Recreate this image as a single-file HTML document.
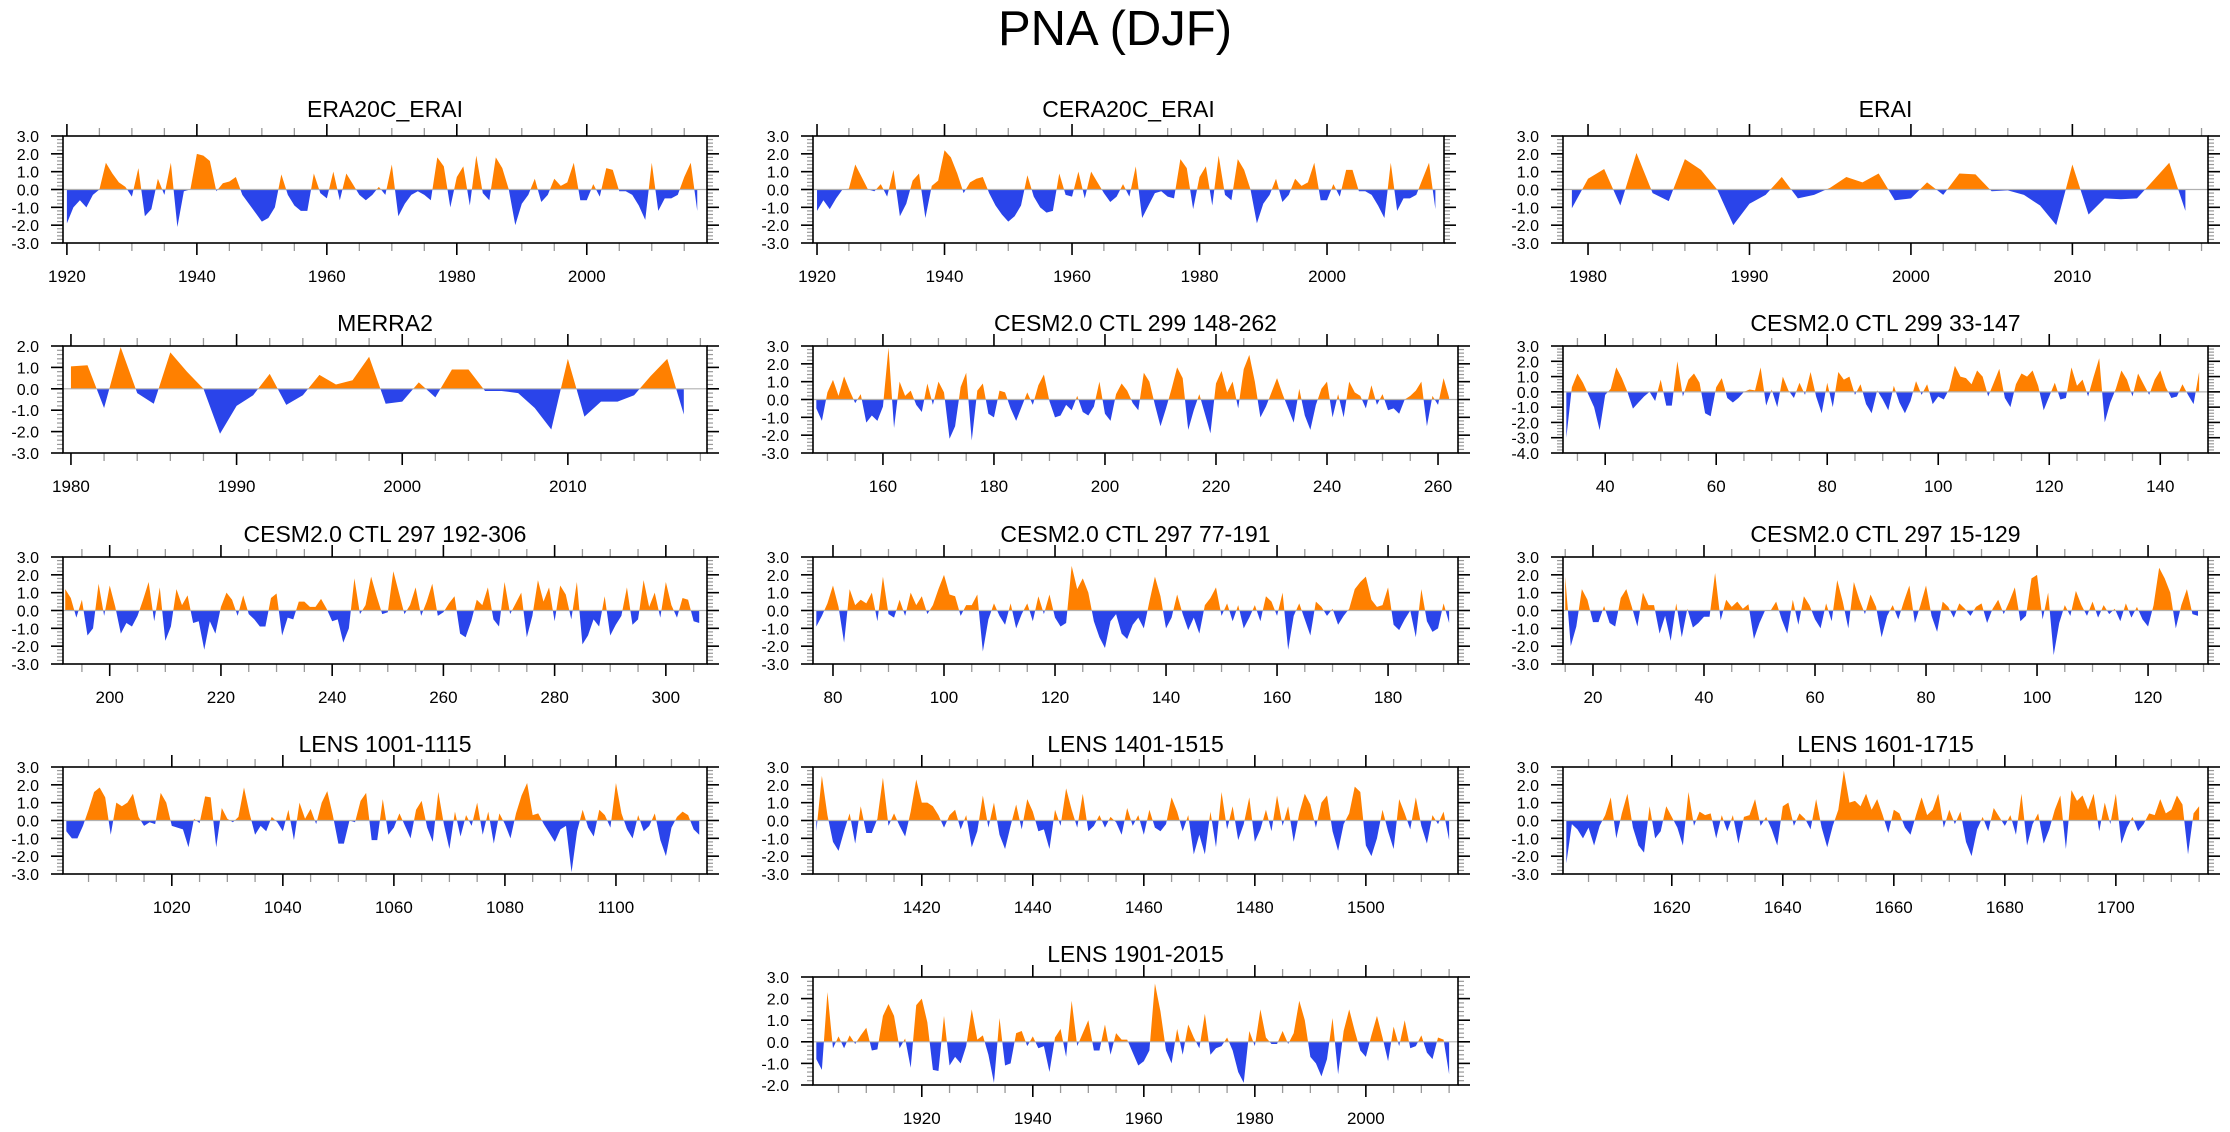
<!DOCTYPE html>
<html><head><meta charset="utf-8"><title>PNA (DJF)</title>
<style>
html,body{margin:0;padding:0;background:#fff;}
svg{display:block;font-family:"Liberation Sans",Arial,sans-serif;}
</style></head>
<body>
<svg id="fig" width="2230" height="1132" viewBox="0 0 2230 1132" xmlns="http://www.w3.org/2000/svg">
<text x="1115" y="45" font-size="49" text-anchor="middle">PNA (DJF)</text>
</svg>
<script>
// ---------- DATA ----------
const era20cStart = 1920;
const era20cValues = [-1.9,-1.0,-0.6,-1.0,-0.3,0.0,1.5,0.9,0.4,0.15,-0.4,1.2,-1.5,-1.1,0.6,-0.3,1.5,-2.1,-0.1,0.0,
2.0,1.9,1.6,-0.1,0.35,0.45,0.7,-0.3,-0.8,-1.3,-1.8,-1.6,-1.0,0.85,-0.3,-0.9,-1.2,-1.2,0.9,-0.2,
-0.5,1.0,-0.6,0.9,0.3,-0.3,-0.6,-0.3,0.15,-0.3,1.4,-1.5,-0.8,-0.3,-0.1,-0.3,-0.6,1.8,1.3,-1.0,
0.7,1.3,-0.9,1.9,-0.2,-0.6,1.8,1.2,0.0,-2.0,-0.8,-0.3,0.6,-0.7,-0.3,0.6,0.2,0.4,1.5,-0.6,
-0.6,0.3,-0.4,1.2,1.1,-0.1,-0.1,-0.3,-0.9,-1.7,1.5,-1.2,-0.5,-0.5,-0.3,0.7,1.5,-1.2];
const cera20cStart = 1920;
const cera20cValues = [-1.2,-0.6,-1.1,-0.5,0.0,0.05,1.4,0.7,0.0,-0.1,0.3,-0.4,1.1,-1.5,-0.8,0.5,0.9,-1.6,0.2,0.5,
2.2,1.8,0.9,-0.2,0.4,0.6,0.7,-0.2,-0.9,-1.4,-1.8,-1.5,-0.9,0.8,-0.4,-1.0,-1.3,-1.2,0.9,-0.3,
-0.4,1.0,-0.5,1.0,0.4,-0.2,-0.7,-0.4,0.3,-0.4,1.3,-1.6,-0.9,-0.2,-0.1,-0.4,-0.5,1.7,1.2,-1.1,
0.7,1.3,-0.9,1.9,-0.3,-0.6,1.7,1.1,0.0,-1.9,-0.8,-0.3,0.6,-0.7,-0.3,0.6,0.2,0.4,1.5,-0.6,
-0.6,0.3,-0.4,1.1,1.1,-0.1,-0.1,-0.3,-0.9,-1.6,1.5,-1.2,-0.5,-0.5,-0.3,0.6,1.5,-1.1];
const eraiStart = 1979;
const eraiValues = [-1.05,0.6,1.15,-0.9,2.05,-0.2,-0.65,1.7,1.1,0.0,-2.0,-0.8,-0.3,0.7,-0.5,-0.3,0.1,0.7,0.4,0.9,
-0.6,-0.5,0.4,-0.3,0.9,0.85,-0.1,-0.05,-0.3,-0.9,-2.0,1.4,-1.4,-0.5,-0.55,-0.5,0.5,1.5,-1.2];
const merra2Start = 1980;
const merra2Values = [1.05,1.1,-0.9,1.95,-0.2,-0.7,1.7,0.8,0.0,-2.1,-0.8,-0.3,0.7,-0.75,-0.3,0.65,0.2,0.4,1.5,-0.7,
-0.6,0.3,-0.4,0.9,0.9,-0.1,-0.1,-0.2,-0.9,-1.9,1.4,-1.3,-0.6,-0.6,-0.3,0.6,1.4,-1.2];
const ctl299aStart = 148;
const ctl299aValues = [-0.5,-1.2,0.4,1.1,0.2,1.3,0.5,-0.2,0.3,-1.3,-0.9,-1.2,-0.4,2.9,-1.6,1.0,0.2,0.5,-0.3,-0.7,
0.9,-0.3,1.0,0.4,-2.2,-1.5,0.7,1.5,-2.3,0.5,0.9,-0.8,-1.0,0.5,0.4,-0.5,-1.2,-0.4,0.4,-0.3,
0.8,1.4,-0.1,-1.0,-0.9,-0.3,-0.6,0.2,-0.7,-0.9,-0.4,1.0,-0.8,-1.2,0.3,0.9,0.5,-0.2,-0.6,1.5,
1.0,-0.3,-1.5,-0.5,0.6,1.8,1.2,-1.7,-0.6,0.3,-0.8,-1.9,0.9,1.6,0.4,1.0,-0.5,1.7,2.5,1.0,
-1.0,-0.4,0.4,1.2,0.3,-0.5,-1.3,0.6,-0.9,-1.7,-0.3,0.6,1.0,-1.0,0.3,-1.0,1.0,0.4,0.2,-0.5,
0.8,-0.3,0.3,-0.6,-0.5,-0.8,0.0,0.2,0.5,1.0,-1.5,0.2,-0.3,1.2,0.1];
const ctl299bStart = 33;
const ctl299bValues = [-3.0,0.3,1.2,0.6,-0.2,-1.0,-2.5,-0.2,0.2,1.6,0.9,0.0,-1.1,-0.7,-0.3,0.0,-0.6,0.8,-0.9,-0.9,
2.0,-0.3,0.8,1.2,0.6,-1.4,-1.6,0.3,0.9,-0.4,-0.7,-0.4,0.0,0.15,0.1,1.6,-0.9,0.15,-1.0,1.0,
0.1,-0.4,0.6,-0.2,1.3,-0.3,-1.4,0.6,-1.0,1.3,0.8,1.0,-0.2,0.5,-0.8,-1.4,0.1,-0.5,-1.2,0.4,
-0.7,-1.4,-0.6,0.7,-0.2,0.5,-0.8,-0.3,-0.5,0.2,1.7,1.0,0.9,0.5,1.4,1.0,-0.3,0.6,1.5,-0.4,
-1.0,0.5,1.2,1.0,1.4,0.4,-1.2,-0.3,0.6,-0.5,-0.4,1.6,0.4,0.8,-0.3,1.0,2.2,-2.0,-0.7,0.2,
1.4,0.8,-0.3,1.2,0.5,-0.2,0.8,1.4,0.3,-0.4,-0.3,0.5,-0.2,-0.8,1.3];
const ctl297aStart = 192;
const ctl297aValues = [1.2,0.7,-0.4,0.6,-1.4,-1.0,1.5,-0.3,1.4,0.2,-1.3,-0.7,-0.9,-0.3,0.6,1.6,-0.6,1.3,-1.7,-0.9,
1.2,0.3,0.85,-0.7,-0.6,-2.2,-0.6,-1.3,0.2,1.0,0.6,-0.3,0.85,-0.2,-0.5,-0.9,-0.9,0.7,0.95,-1.4,
-0.4,-0.5,0.5,0.5,0.2,0.2,0.65,0.1,-0.6,-0.5,-1.8,-1.0,1.8,-0.2,0.3,1.9,0.8,-0.2,-0.1,2.2,
1.0,-0.2,0.3,1.3,-0.3,0.5,1.5,-0.3,-0.1,0.4,0.8,-1.3,-1.5,-0.6,0.6,0.3,1.3,-0.5,-0.9,1.6,
-0.2,0.4,1.0,-1.5,-0.3,1.7,0.5,1.3,-0.6,1.4,0.9,-0.5,1.6,-1.9,-1.4,-0.5,-0.9,0.8,-1.4,-0.8,
-0.3,1.3,-0.8,-0.5,1.7,0.2,1.0,-0.4,1.6,0.3,-0.4,0.7,0.6,-0.6,-0.7];
const ctl297bStart = 77;
const ctl297bValues = [-0.9,-0.3,0.4,1.4,0.2,-1.8,1.2,0.3,0.6,0.4,1.0,-0.6,1.9,-0.2,-0.4,0.6,-0.3,1.0,0.3,0.8,
-0.2,0.3,1.2,2.0,0.9,0.8,-0.3,0.3,0.3,0.9,-2.3,-0.5,0.4,-0.3,-0.8,0.4,-1.0,-0.2,0.4,-0.6,
0.8,-0.2,0.9,-0.4,-0.9,-0.7,2.5,1.2,1.8,1.0,-0.6,-1.5,-2.1,-0.6,-0.2,-1.3,-1.6,-0.8,-0.4,-1.0,
0.5,1.9,0.8,-1.0,-0.4,0.9,-0.2,-1.1,-0.4,-1.3,0.3,0.7,1.3,-0.3,0.4,-0.6,0.3,-1.0,-0.4,0.3,
-0.6,0.8,0.5,-0.3,1.0,-2.2,-0.3,0.4,-0.5,-1.4,0.5,0.2,-0.3,0.1,-0.8,-0.3,0.1,1.2,1.6,1.9,
0.6,0.2,0.3,1.3,-0.8,-1.1,-0.5,0.0,-1.5,1.2,-0.6,-1.2,-1.0,0.4,-0.7];
const ctl297cStart = 15;
const ctl297cValues = [1.9,-2.0,-0.9,1.2,0.6,-0.65,-0.65,0.25,-0.7,-0.9,0.7,1.2,0.2,-0.9,1.0,0.3,0.3,-1.3,-0.3,-1.7,
0.4,-1.5,0.1,-0.95,-0.7,-0.35,-0.35,2.1,-0.55,0.6,0.2,0.5,0.1,0.35,-1.6,-0.7,0.0,0.0,0.5,-0.5,
-1.3,0.6,-0.8,0.8,0.3,-0.5,-1.0,0.4,-0.6,1.7,0.5,-1.0,1.6,0.6,-0.2,0.9,0.2,-1.5,-0.3,0.3,
-0.5,0.5,1.4,-0.7,0.3,1.4,-0.3,-1.2,0.5,0.2,-0.4,0.4,0.1,-0.3,0.2,0.4,-0.7,0.1,0.6,-0.2,
0.5,1.3,-0.6,-0.3,1.8,2.0,-0.5,1.0,-2.5,-0.7,0.3,-0.3,1.1,0.3,-0.3,0.5,-0.4,0.3,-0.2,0.1,
-0.6,0.4,-0.4,0.2,-0.5,-0.9,0.3,2.4,1.8,1.0,-1.0,0.3,1.2,-0.2,-0.3];
const lens1001Start = 1001;
const lens1001Values = [-0.6,-1.0,-1.0,-0.3,0.6,1.6,1.85,1.3,-0.8,1.0,0.8,1.0,1.5,0.2,-0.3,-0.1,-0.2,1.55,1.0,-0.3,
-0.4,-0.5,-1.5,0.1,-0.15,1.35,1.3,-1.5,0.7,0.1,-0.1,0.2,1.85,0.4,-0.8,-0.3,-0.6,0.2,-0.1,-0.6,
0.6,-1.1,1.0,0.1,0.65,-0.2,1.0,1.65,0.3,-1.3,-1.3,0.0,-0.1,1.1,1.55,-1.1,-1.1,1.2,-0.8,-0.4,
0.4,-0.3,-1.0,0.6,1.1,-0.4,-1.2,1.6,-0.2,-1.6,0.5,-0.9,0.3,-0.3,1.0,-0.8,0.5,-1.3,0.4,-0.2,
-1.0,0.4,1.4,2.1,0.3,0.4,-0.2,-0.7,-1.2,-0.5,-0.3,-2.9,-0.6,0.6,-0.4,-0.9,0.6,0.3,-0.4,2.1,
0.4,-0.5,-1.0,0.3,-0.6,-0.3,0.4,-1.1,-2.0,-0.4,0.2,0.5,0.3,-0.5,-0.8];
const lens1401Start = 1401;
const lens1401Values = [-0.6,2.5,0.3,-1.2,-1.7,-0.6,0.4,-1.3,0.8,-0.7,-0.7,0.1,2.4,-0.3,0.4,-0.3,-0.9,0.5,2.3,1.0,
1.0,0.8,0.3,-0.4,0.3,0.6,-0.5,0.3,-1.5,-0.6,1.4,-0.4,1.0,-0.8,-1.6,-0.3,0.9,-0.5,1.2,0.5,
-0.6,-0.5,-1.6,0.6,-0.3,1.8,0.6,-0.4,1.5,-0.6,-0.3,0.3,-0.4,0.2,-0.1,-0.8,0.7,-0.3,0.3,-0.8,
0.6,-0.4,-0.6,-0.2,1.3,0.5,-0.6,0.3,-1.9,-0.8,-1.9,0.5,-1.5,1.6,-0.5,0.8,-1.1,-0.2,1.3,-1.2,
-0.5,0.6,-0.6,1.4,-0.3,0.8,-1.2,0.4,1.5,0.9,-0.4,1.0,1.4,-0.6,-1.7,-0.2,0.4,1.9,1.6,-1.4,
-2.0,-1.0,0.6,-0.6,-1.6,1.2,0.4,-0.5,1.3,-0.3,-1.3,0.3,-0.2,0.5,-1.1];
const lens1601Start = 1601;
const lens1601Values = [-2.4,-0.2,-0.5,-1.0,-0.4,-1.4,-0.3,0.3,1.3,-1.0,0.4,1.5,-0.4,-1.4,-1.8,0.8,-1.0,-0.6,0.8,0.2,
-0.4,-1.4,1.6,-0.3,0.5,0.3,0.4,-1.0,0.3,-0.6,0.3,-1.3,0.2,0.3,1.2,-0.3,0.2,-0.5,-1.4,0.8,
1.0,-0.3,0.4,0.1,-0.5,1.2,-0.4,-1.5,-0.3,0.6,2.8,1.0,1.1,0.8,1.5,0.6,1.2,0.3,-0.7,0.6,
0.4,-0.4,-0.8,0.3,1.3,0.3,0.6,1.5,-0.4,0.6,-0.2,0.5,-1.2,-2.0,-0.5,0.2,-0.6,0.7,0.2,-0.3,
0.3,-0.8,1.5,-1.4,-0.2,0.4,-1.3,-0.5,0.6,1.4,-1.6,1.7,1.1,1.4,0.6,1.5,-0.6,1.0,-0.2,1.5,
-1.3,-0.4,0.2,-0.6,-0.2,0.4,0.3,1.2,0.4,0.6,1.4,0.9,-1.9,0.4,0.8];
const lens1901Start = 1901;
const lens1901Values = [-0.8,-1.3,2.3,-0.3,0.25,-0.3,0.3,-0.1,0.3,0.65,-0.4,-0.35,1.2,1.75,1.2,-0.3,0.15,-1.2,1.7,2.0,
0.9,-1.3,-1.35,1.2,-1.1,-0.7,-1.0,-0.2,1.5,0.1,0.3,-0.6,-1.9,1.1,-1.1,-1.0,0.4,0.5,-0.2,0.25,
-0.3,-0.2,-1.4,0.2,0.6,-0.7,1.9,-0.2,0.4,1.0,-0.4,-0.4,0.8,-0.6,0.4,0.1,0.1,-0.5,-1.1,-0.9,
-0.4,2.7,1.4,-0.4,-1.0,0.6,-0.6,0.8,0.2,-0.3,1.3,-0.6,-0.3,-0.2,0.2,-0.4,-1.4,-1.9,0.5,-0.2,
1.5,0.2,-0.1,-0.1,0.5,-0.1,0.4,1.9,1.0,-0.7,-1.0,-1.6,-0.8,1.1,-1.5,0.5,1.5,0.5,-0.4,-0.7,
0.3,1.2,0.2,-0.9,0.7,-0.2,1.0,-0.3,-0.2,0.3,-0.5,-0.8,0.2,0.1,-1.5];

// ---------- LAYOUT (not data) ----------
const panels = [
 {id:'era20c-erai', title:'ERA20C_ERAI', start:era20cStart, values:era20cValues, L:63,R:707,T:136,B:243, xmin:1919.4,xmax:2018.5, ymin:-3,ymax:3, major:20, minor:5, tb:19},
 {id:'cera20c-erai', title:'CERA20C_ERAI', start:cera20cStart, values:cera20cValues, L:813,R:1444,T:136,B:243, xmin:1919.37,xmax:2018.35, ymin:-3,ymax:3, major:20, minor:5, tb:19},
 {id:'erai', title:'ERAI', start:eraiStart, values:eraiValues, L:1563,R:2208,T:136,B:243, xmin:1978.45,xmax:2018.4, ymin:-3,ymax:3, major:10, minor:2, tb:19},
 {id:'merra2', title:'MERRA2', start:merra2Start, values:merra2Values, L:63,R:707,T:346,B:453, xmin:1979.52,xmax:2018.4, ymin:-3,ymax:2, major:10, minor:2, tb:15},
 {id:'cesm-299-148-262', title:'CESM2.0 CTL 299 148-262', start:ctl299aStart, values:ctl299aValues, L:813,R:1458,T:346,B:453, xmin:147.4,xmax:263.6, ymin:-3,ymax:3, major:20, minor:5, tb:15},
 {id:'cesm-299-33-147', title:'CESM2.0 CTL 299 33-147', start:ctl299bStart, values:ctl299bValues, L:1563,R:2208,T:346,B:453, xmin:32.4,xmax:148.6, ymin:-4,ymax:3, major:20, minor:5, tb:15},
 {id:'cesm-297-192-306', title:'CESM2.0 CTL 297 192-306', start:ctl297aStart, values:ctl297aValues, L:63,R:707,T:557,B:664, xmin:191.6,xmax:307.4, ymin:-3,ymax:3, major:20, minor:5, tb:15},
 {id:'cesm-297-77-191', title:'CESM2.0 CTL 297 77-191', start:ctl297bStart, values:ctl297bValues, L:813,R:1458,T:557,B:664, xmin:76.4,xmax:192.6, ymin:-3,ymax:3, major:20, minor:5, tb:15},
 {id:'cesm-297-15-129', title:'CESM2.0 CTL 297 15-129', start:ctl297cStart, values:ctl297cValues, L:1563,R:2208,T:557,B:664, xmin:14.6,xmax:130.8, ymin:-3,ymax:3, major:20, minor:5, tb:15},
 {id:'lens-1001-1115', title:'LENS 1001-1115', start:lens1001Start, values:lens1001Values, L:63,R:707,T:767,B:874, xmin:1000.4,xmax:1116.4, ymin:-3,ymax:3, major:20, minor:5, tb:15},
 {id:'lens-1401-1515', title:'LENS 1401-1515', start:lens1401Start, values:lens1401Values, L:813,R:1458,T:767,B:874, xmin:1400.4,xmax:1516.6, ymin:-3,ymax:3, major:20, minor:5, tb:15},
 {id:'lens-1601-1715', title:'LENS 1601-1715', start:lens1601Start, values:lens1601Values, L:1563,R:2208,T:767,B:874, xmin:1600.4,xmax:1716.6, ymin:-3,ymax:3, major:20, minor:5, tb:15},
 {id:'lens-1901-2015', title:'LENS 1901-2015', start:lens1901Start, values:lens1901Values, L:813,R:1458,T:977,B:1085, xmin:1900.4,xmax:2016.6, ymin:-2,ymax:3, major:20, minor:5, tb:15}
];

const NS = 'http://www.w3.org/2000/svg';
const svg = document.getElementById('fig');
function mk(tag, attrs, parent){
  const e = document.createElementNS(NS, tag);
  for (const k in attrs) e.setAttribute(k, attrs[k]);
  (parent||svg).appendChild(e);
  return e;
}

panels.forEach(function(p, idx){
  const g = mk('g', {});
  
  
  const xs = function(v){ return p.L + (v - p.xmin) / (p.xmax - p.xmin) * (p.R - p.L); };
  const ys = function(v){ return p.B - (v - p.ymin) / (p.ymax - p.ymin) * (p.B - p.T); };
  const y0 = ys(0);

  // title
  const t = mk('text', {x:(p.L+p.R)/2, y:p.T - p.tb, 'font-size':23, 'text-anchor':'middle'}, g);
  t.textContent = p.title;
  
  

  // clip paths
  const defs = mk('defs', {}, g);
  const cu = mk('clipPath', {id:'cu'+idx}, defs);
  mk('rect', {x:p.L, y:p.T, width:p.R-p.L, height:y0-p.T}, cu);
  const cd = mk('clipPath', {id:'cd'+idx}, defs);
  mk('rect', {x:p.L, y:y0, width:p.R-p.L, height:p.B-y0}, cd);

  // series polygon
  let d = 'M' + xs(p.start).toFixed(2) + ',' + y0.toFixed(2);
  p.values.forEach(function(v, i){
    d += ' L' + xs(p.start + i).toFixed(2) + ',' + ys(v).toFixed(2);
  });
  d += ' L' + xs(p.start + p.values.length - 1).toFixed(2) + ',' + y0.toFixed(2) + ' Z';
  const pos = mk('path', {d:d, fill:'#ff8000', 'clip-path':'url(#cu'+idx+')'}, g);
  
  
  const neg = mk('path', {d:d, fill:'#2a44ea', 'clip-path':'url(#cd'+idx+')'}, g);
  
  

  // zero line
  const zl = mk('line', {x1:p.L, x2:p.R, y1:y0, y2:y0, stroke:'#b0b0b0', 'stroke-width':1.2}, g);
  
  

  // x ticks
  const xa = mk('g', {}, g);
  
  
  const first = Math.ceil(p.xmin / p.minor) * p.minor;
  for (let v = first; v <= p.xmax; v += p.minor) {
    const X = xs(v);
    const isMaj = Math.abs(v / p.major - Math.round(v / p.major)) < 1e-6;
    const len = isMaj ? 12 : 8;
    const col = isMaj ? '#000' : '#999';
    const sw = isMaj ? 1.6 : 1.3;
    mk('line', {x1:X, x2:X, y1:p.T, y2:p.T-len, stroke:col, 'stroke-width':sw}, xa);
    mk('line', {x1:X, x2:X, y1:p.B, y2:p.B+len, stroke:col, 'stroke-width':sw}, xa);
    if (isMaj) {
      const lb = mk('text', {x:X, y:p.B+39, 'font-size':17, 'text-anchor':'middle'}, xa);
      lb.textContent = String(Math.round(v));
      
      
    }
  }
  // y ticks
  const ya = mk('g', {}, g);
  
  
  const nMin = Math.round((p.ymax - p.ymin) / 0.2);
  for (let k = 0; k <= nMin; k++) {
    const v = p.ymin + k * 0.2;
    const Y = ys(v);
    const isMaj = (k % 5) === 0;
    const len = isMaj ? 12 : 6;
    const col = isMaj ? '#000' : '#999';
    mk('line', {x1:p.L, x2:p.L-len, y1:Y, y2:Y, stroke:col, 'stroke-width':isMaj?1.6:1.2}, ya);
    mk('line', {x1:p.R, x2:p.R+len, y1:Y, y2:Y, stroke:col, 'stroke-width':isMaj?1.6:1.2}, ya);
    if (isMaj) {
      const lb = mk('text', {x:p.L-24, y:Y+6, 'font-size':16, 'text-anchor':'end'}, ya);
      lb.textContent = v.toFixed(1);
      
      
    }
  }
  // frame
  const fr = mk('rect', {x:p.L, y:p.T, width:p.R-p.L, height:p.B-p.T, fill:'none', stroke:'#000', 'stroke-width':1.6}, g);
  
  
});
</script>
</body></html>
